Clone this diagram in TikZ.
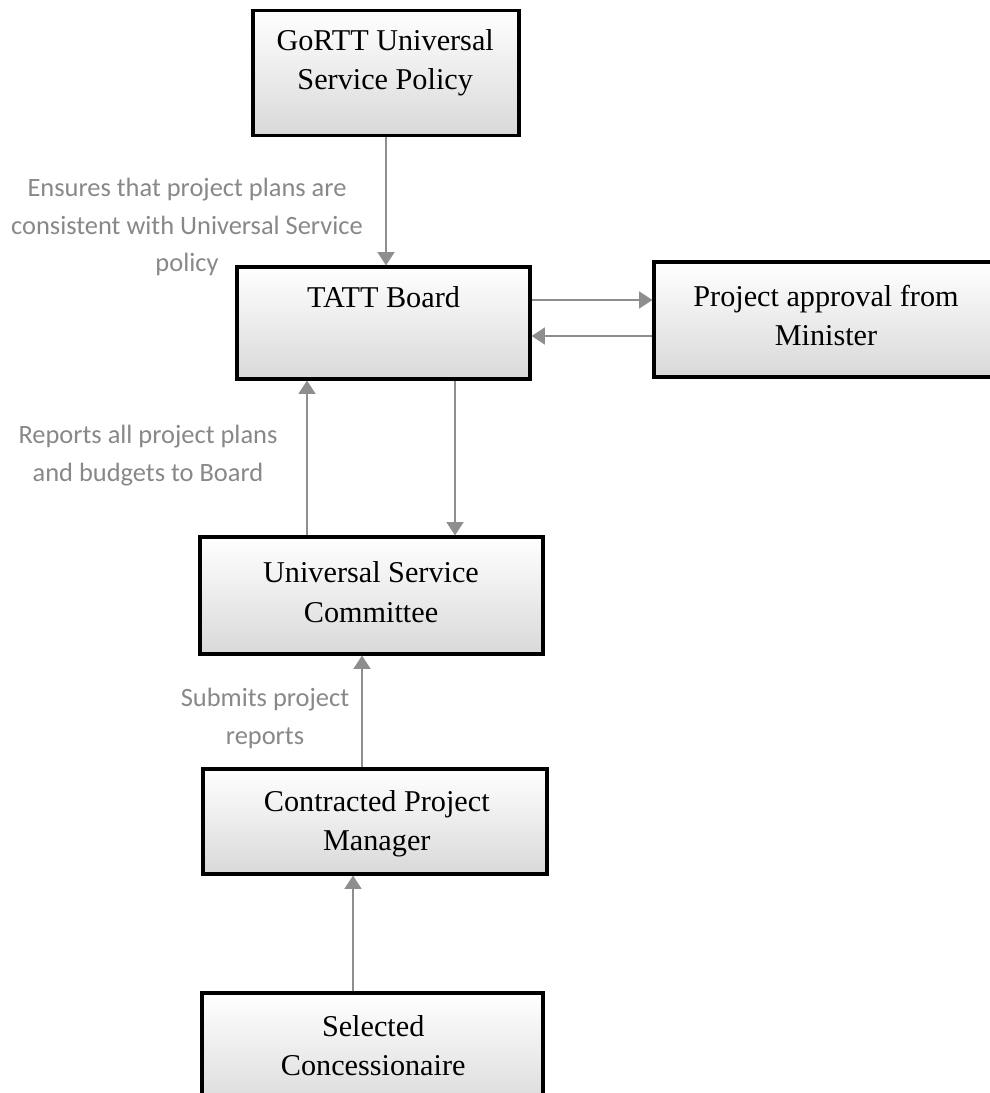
\documentclass[tikz,border=0pt]{standalone}
\usepackage{fontspec}
\setmainfont{Liberation Serif}
\newfontfamily\notefont{Carlito}
\usetikzlibrary{arrows.meta}
\definecolor{linkgray}{HTML}{8E8E8E}
\definecolor{notegray}{HTML}{888888}
\tikzset{
    unit/.style={
        rectangle, draw=black, line width=2.2pt,
        top color=white, bottom color=black!15,
        minimum width=8.58cm, minimum height=2.9cm, inner sep=0pt
    },
    unittext/.style={
        align=center, inner sep=0pt,
        font=\fontsize{21.5}{28}\selectfont
    },
    note/.style={
        align=center, inner sep=0pt, text=notegray,
        font=\notefont\fontsize{18.8}{27}\selectfont
    },
    flow/.style={draw=linkgray, line width=1.4pt, -{Triangle[length=9.5pt,width=12pt]}}
}

\begin{document}
\begin{tikzpicture}

\useasboundingbox (0,0) rectangle (24.75,27.325);
\clip (0,0) rectangle (24.75,27.325);

% Policy
\node[unit, minimum width=6.65cm, minimum height=3.125cm] (gortt) at (9.65,25.51) {};
\node[unittext] (gortt-t) at (9.63,25.75) {GoRTT Universal\\Service Policy};

% Board and Minister
\node[unit, minimum width=7.325cm, minimum height=2.8cm] (tatt) at (9.5875,19.25) {};
\node[unittext] (tatt-t) at (9.5875,19.9) {TATT Board};

\node[unit, minimum width=8.65cm, minimum height=2.875cm] (minister) at (20.675,19.3375) {};
\node[unittext] (minister-t) at (20.65,19.44) {Project approval from\\Minister};

% Committee
\node[unit, minimum width=8.575cm, minimum height=2.925cm] (usc) at (9.2875,12.4375) {};
\node[unittext] (usc-t) at (9.275,12.525) {Universal Service\\Committee};

% Manager
\node[unit, minimum width=8.6cm, minimum height=2.625cm] (cpm) at (9.375,6.7875) {};
\node[unittext] (cpm-t) at (9.42,6.725) {Contracted Project\\Manager};

% Concessionaire
\node[unit, minimum width=8.525cm, minimum height=3cm] (conc) at (9.3125,1.0) {};
\node[unittext] (conc-t) at (9.33,1.19) {Selected\\Concessionaire};

% Notes
\node[note] (ensures) at (4.675,21.65) {Ensures that project plans are\\consistent with Universal Service\\policy};
\node[note] (reports) at (3.7,15.925) {Reports all project plans\\and budgets to Board};
\node[note] (submits) at (6.625,9.36) {Submits project\\reports};

% Links
\coordinate (tatt-out) at ([yshift=0.575cm]tatt.east);
\coordinate (tatt-in) at ([yshift=-0.325cm]tatt.east);
\coordinate (tatt-down) at ([xshift=1.7875cm]tatt.south);
\coordinate (usc-up) at ([xshift=-1.6125cm]usc.north);
\coordinate (cpm-up) at ([xshift=-0.325cm]cpm.north);
\coordinate (conc-up) at ([xshift=-0.4875cm]conc.north);

\draw[flow] (gortt.south) -- (gortt.south |- tatt.north);
\draw[flow] (tatt-out) -- (tatt-out -| minister.west);
\draw[flow] (tatt-in -| minister.west) -- (tatt-in);
\draw[flow] (tatt-down) -- (tatt-down |- usc.north);
\draw[flow] (usc-up) -- (usc-up |- tatt.south);
\draw[flow] (cpm-up) -- (cpm-up |- usc.south);
\draw[flow] (conc-up) -- (conc-up |- cpm.south);

\end{tikzpicture}
\end{document}
